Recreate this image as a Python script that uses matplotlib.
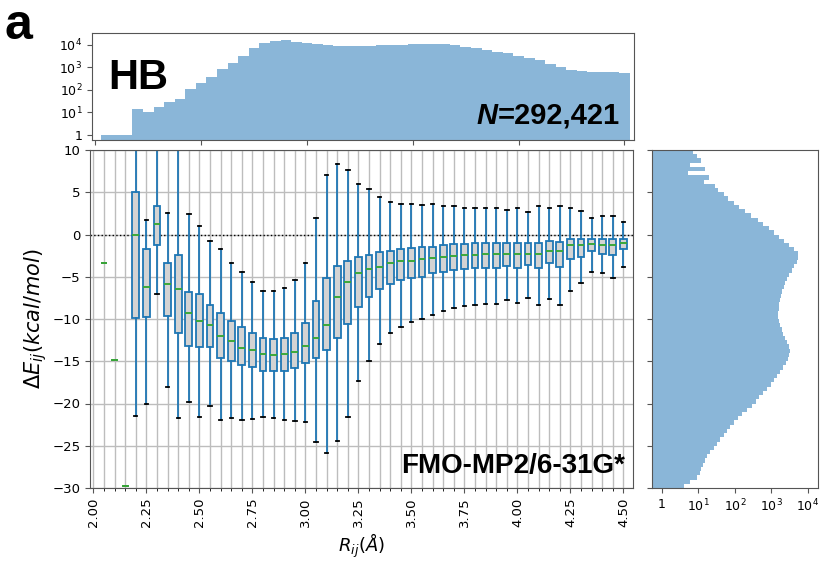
import numpy as np
import matplotlib
matplotlib.use("Agg")
import matplotlib.pyplot as plt
from matplotlib.ticker import MultipleLocator, FixedLocator, NullLocator, NullFormatter

W, H = 827, 570

# distance bins (A), one box per bin
R_CENTERS = np.round(np.arange(2.05, 4.501, 0.05), 2)

BOX_MED = [-3.4, -14.8, -29.8, -0.1, -6.2, 1.2, -5.9, -6.4, -9.3, -10.2,
           -10.7, -12.0, -12.6, -13.4, -13.7, -14.2, -14.3, -14.2, -13.9, -13.2,
           -12.2, -10.7, -7.4, -5.6, -4.6, -4.1, -3.9, -3.4, -3.15, -3.1,
           -2.9, -2.84, -2.72, -2.52, -2.44, -2.44, -2.33, -2.25, -2.25, -2.25,
           -2.25, -2.25, -1.97, -1.97, -1.26, -1.26, -1.15, -1.26, -1.26, -0.99]
BOX_Q1 = [-3.4, -14.8, -29.8, -9.9, -9.8, -1.3, -9.6, -11.7, -13.2, -13.3,
          -13.3, -14.6, -15.0, -15.4, -15.7, -16.1, -16.1, -16.2, -15.8, -15.2,
          -14.6, -13.7, -12.2, -10.6, -8.6, -7.4, -6.4, -5.9, -5.4, -5.2,
          -5.0, -4.6, -4.41, -4.2, -4.1, -4.0, -4.0, -3.94, -3.7, -4.0,
          -3.62, -4.0, -3.43, -3.9, -2.95, -2.64, -1.97, -2.25, -2.44, -1.77]
BOX_Q3 = [-3.4, -14.8, -29.8, 5.0, -1.7, 3.4, -3.4, -2.4, -6.8, -7.1,
          -8.3, -9.3, -10.2, -11.0, -11.7, -12.2, -12.4, -12.2, -11.7, -10.5,
          -7.9, -5.1, -3.7, -3.15, -2.7, -2.4, -2.1, -2.0, -1.74, -1.58,
          -1.46, -1.46, -1.26, -1.18, -1.18, -0.99, -0.95, -0.99, -0.99, -0.99,
          -0.99, -0.95, -0.75, -0.87, -0.59, -0.55, -0.59, -0.55, -0.48, -0.48]
BOX_LO = [-3.4, -14.8, -29.8, -21.5, -20.0, -7.1, -18.1, -21.7, -19.8, -21.6,
          -20.3, -21.9, -21.7, -22.0, -21.8, -21.6, -21.7, -22.0, -22.1, -22.2,
          -24.5, -25.9, -24.4, -21.6, -17.3, -15.0, -12.95, -11.6, -10.9, -10.4,
          -10.0, -9.5, -9.0, -8.66, -8.47, -8.35, -8.27, -8.23, -7.76, -8.07,
          -7.56, -8.35, -7.64, -8.35, -6.69, -5.71, -4.41, -4.6, -5.12, -3.9]
BOX_HI = [-3.4, -14.8, -29.8, 12.0, 1.7, 12.0, 2.5, 12.0, 2.4, 1.0,
          -0.8, -1.7, -3.4, -4.4, -5.6, -6.7, -6.7, -6.3, -5.4, -3.4,
          2.0, 7.1, 8.3, 7.6, 6.0, 5.35, 4.4, 3.85, 3.66, 3.66,
          3.46, 3.58, 3.34, 3.34, 3.19, 3.19, 3.19, 3.19, 2.95, 3.19,
          2.67, 3.38, 3.19, 3.38, 3.19, 2.79, 1.96, 2.2, 2.2, 1.49]

# pair counts per distance bin
R_COUNTS = [1, 1, 1, 14, 10, 17, 30, 38, 107, 210,
            390, 860, 1640, 3330, 7100, 12700, 15400, 16600, 14000, 11800,
            10700, 9500, 9300, 9300, 9300, 9400, 9500, 9800, 10300, 10800,
            11300, 11500, 11000, 9500, 8300, 7000, 6000, 5000, 4300, 3300,
            2600, 2100, 1500, 1100, 780, 680, 650, 630, 610, 550]

# energy histogram, 0.5 kcal/mol bins from 10 down to -30
E_EDGES = np.arange(10.0, -30.01, -0.5)
E_COUNTS = [7, 9, 12, 6, 15, 5, 20, 14, 28, 35,
            50, 65, 95, 130, 190, 280, 420, 600, 850, 1200,
            1650, 2200, 3000, 4200, 5300, 5500, 5000, 4300, 3600, 3100,
            2700, 2400, 2150, 1950, 1800, 1700, 1620, 1580, 1550, 1550,
            1600, 1750, 1900, 2050, 2300, 2650, 3000, 3150, 3100, 2800,
            2500, 2100, 1750, 1450, 1200, 950, 750, 580, 460, 370,
            290, 220, 160, 120, 95, 75, 60, 50, 40, 32,
            26, 21, 17, 15, 13, 12, 11, 9, 6, 4]

LOG_TICKS = [1, 10, 100, 1000, 10000]
LOG_LABELS = ['1', '$10^1$', '$10^2$', '$10^3$', '$10^4$']

BLUE = '#1f77b4'
HIST_COLOR = '#8ab6d8'
SPINE = '#555555'
GRID = '#bdbdbd'
BOLD_FONT = 'Liberation Sans'


def px_box(x0, y0, x1, y1):
    return [x0 / W, 1 - y1 / H, (x1 - x0) / W, (y1 - y0) / H]


fig = plt.figure(figsize=(W / 100, H / 100), dpi=100)
ax = fig.add_axes(px_box(90, 150, 633, 488))
ax_top = fig.add_axes(px_box(92, 33, 634, 140))
ax_r = fig.add_axes(px_box(652, 150, 818, 488))

xlim = (1.984, 4.545)

# --- main boxplot ---
stats = []
for i in range(len(R_CENTERS)):
    stats.append(dict(med=BOX_MED[i], q1=BOX_Q1[i], q3=BOX_Q3[i],
                      whislo=BOX_LO[i], whishi=BOX_HI[i], fliers=[]))
ax.bxp(stats, positions=R_CENTERS, widths=0.032, patch_artist=True,
       showfliers=False, manage_ticks=False,
       boxprops=dict(facecolor='#d3d3d3', edgecolor=BLUE, linewidth=1.3),
       whiskerprops=dict(color=BLUE, linewidth=1.3),
       capprops=dict(color='black', linewidth=1.3),
       medianprops=dict(color='#3aa83a', linewidth=1.4))
ax.axhline(0, color='black', linestyle=':', linewidth=1.0, zorder=1.5)

ax.set_xlim(*xlim)
ax.set_ylim(-30, 10)
ax.xaxis.set_major_locator(MultipleLocator(0.25))
ax.xaxis.set_minor_locator(MultipleLocator(0.05))
ax.yaxis.set_major_locator(MultipleLocator(5))
ax.set_xticklabels([f'{v:.2f}' for v in ax.get_xticks()], rotation=90)
ax.set_axisbelow(True)
ax.grid(which='both', axis='x', color=GRID, linewidth=1.0)
ax.grid(which='major', axis='y', color=GRID, linewidth=1.0)
ax.tick_params(labelsize=9.5, color=SPINE)
ax.tick_params(which='minor', length=2.5)
ax.set_xlabel(r'$R_{ij}(\AA)$', fontsize=13, labelpad=3)
ax.set_ylabel(r'$\Delta E_{ij}(kcal/mol)$', fontsize=15, labelpad=2)
ax.text(0.985, 0.045, 'FMO-MP2/6-31G*', transform=ax.transAxes, ha='right',
        va='baseline', fontsize=20, fontweight='bold', family=BOLD_FONT)

# --- top histogram of distances ---
r_edges = np.append(R_CENTERS - 0.025, R_CENTERS[-1] + 0.025)
ax_top.stairs(R_COUNTS, r_edges, fill=True, baseline=0.01, color=HIST_COLOR)
ax_top.set_yscale('log')
ax_top.set_xlim(*xlim)
ax_top.set_ylim(0.6, 3.4e4)
ax_top.xaxis.set_major_locator(MultipleLocator(0.5))
ax_top.xaxis.set_major_formatter(NullFormatter())
ax_top.yaxis.set_major_locator(FixedLocator(LOG_TICKS))
ax_top.yaxis.set_minor_locator(NullLocator())
ax_top.set_yticklabels(LOG_LABELS)
ax_top.tick_params(labelsize=9, color=SPINE)
ax_top.text(0.03, 0.48, 'HB', transform=ax_top.transAxes, ha='left',
            va='baseline', fontsize=30, fontweight='bold', family=BOLD_FONT)

# --- right histogram of energies ---
ax_r.stairs(E_COUNTS[::-1], E_EDGES[::-1], orientation='horizontal',
            fill=True, baseline=0.01, color=HIST_COLOR)
ax_r.set_xscale('log')
ax_r.set_xlim(0.53, 1.9e4)
ax_r.set_ylim(-30, 10)
ax_r.xaxis.set_major_locator(FixedLocator(LOG_TICKS))
ax_r.xaxis.set_minor_locator(NullLocator())
ax_r.set_xticklabels(LOG_LABELS)
ax_r.yaxis.set_major_locator(MultipleLocator(5))
ax_r.yaxis.set_major_formatter(NullFormatter())
ax_r.tick_params(labelsize=9, color=SPINE)

for a in (ax, ax_top, ax_r):
    for sp in a.spines.values():
        sp.set_color(SPINE)

# N=292,421 with italic N
num = fig.text(620 / W, 1 - 123.5 / H, '=292,421', ha='right', va='baseline',
               fontsize=21, fontweight='bold', family=BOLD_FONT)
fig.canvas.draw()
bb = num.get_window_extent()
fig.text(bb.x0 / fig.bbox.width, 1 - 123.5 / H, 'N', ha='right', va='baseline',
         fontsize=21, fontweight='bold', style='italic', family=BOLD_FONT)

fig.text(5 / W, 1 - 39 / H, 'a', ha='left', va='baseline', fontsize=36,
         fontweight='bold', family=BOLD_FONT)

fig.savefig('out.png', dpi=100)
